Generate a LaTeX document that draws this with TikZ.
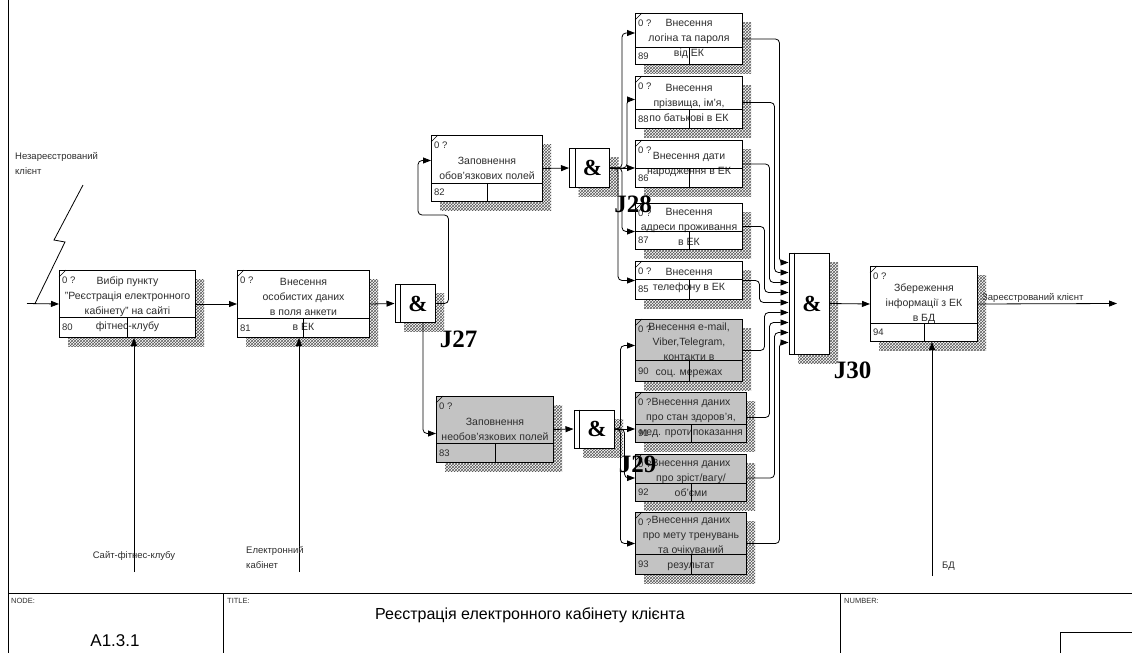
\documentclass[tikz,border=0pt]{standalone}
\usepackage{fontspec}
\setmainfont{Liberation Sans}
\newfontfamily\jfont{Liberation Serif}
\usetikzlibrary{arrows.meta, patterns, positioning, calc}
\definecolor{uobgray}{RGB}{195,195,195}
\definecolor{inkgray}{RGB}{45,45,45}

\tikzset{
    uob/.style={draw, line width=1pt, inner sep=0pt, align=center, text=inkgray,
        font=\fontsize{10.5}{15}\selectfont},
    hatch/.style={pattern=crosshatch, pattern color=black!65},
    junc/.style={draw, line width=1pt, fill=white, minimum width=40pt},
    amp/.style={font=\jfont\bfseries\fontsize{23}{23}\selectfont},
    jname/.style={font=\jfont\bfseries\fontsize{25}{25}\selectfont},
    arr/.style={-{Triangle[length=8pt,width=6pt]}, line width=0.8pt},
    link/.style={arr, rounded corners=4pt},
    note/.style={align=left, inner sep=0pt, text=inkgray, font=\fontsize{9.5}{15}\selectfont},
    small/.style={inner sep=0pt, text=inkgray, font=\fontsize{9.5}{10}\selectfont},
}

% box: [fill] name, x, y, width, height, bottom row, number, text
\newcommand{\uob}[9][white]{%
    \fill[hatch] (#3+9,#4+9) rectangle (#3+#5+9,#4+#6+9);
    \node[uob, fill=#1, anchor=north west, minimum width=#5pt, minimum height=#6pt] (#2) at (#3,#4) {#9};
    \draw[line width=1pt] ([yshift=#7pt]#2.south west) -- ([yshift=#7pt]#2.south east);
    \draw[line width=1pt] (#2.south) -- ([yshift=#7pt]#2.south);
    \draw ([yshift=-7pt]#2.north west) -- ([xshift=7pt]#2.north west);
    \node[small, anchor=north west] at ([xshift=3pt,yshift=-7pt]#2.north west) {0 ?};
    \node[small, anchor=west] at ([xshift=3pt,yshift=0.5*#7pt]#2.south west) {#8};
}

% junction: name, x, y, height, label
\newcommand{\junc}[5]{%
    \fill[hatch] (#2-20+9,#3-#4/2+9) rectangle (#2+20+9,#3+#4/2+9);
    \node[junc, minimum height=#4pt] (#1) at (#2,#3) {};
    \draw ([xshift=6pt]#1.north west) -- ([xshift=6pt]#1.south west);
    \node[amp] at ([xshift=3pt]#1.center) {\&};
    \node[jname] at ($(#1.south east)+(23,16)$) {#5};
}

\begin{document}
\begin{tikzpicture}[x=1pt, y=-1pt]
    \useasboundingbox (0,0) rectangle (1132,653);

    \uob{b80}{59}{270}{136}{67}{21}{80}{Вибір пункту\\"Реєстрація електронного\\кабінету" на сайті\\фітнес-клубу}
    \uob{b81}{237}{270}{132}{67}{20}{81}{Внесення\\особистих даних\\в поля анкети\\в ЕК}
    \uob{b82}{431}{135}{111}{66}{19}{82}{Заповнення\\обов'язкових полей}
    \uob[uobgray]{b83}{436}{396}{117}{66}{20}{83}{Заповнення\\необов'язкових полей}

    \uob{b89}{635}{13}{107}{51}{18}{89}{Внесення\\логіна та пароля\\від ЕК}
    \uob{b88}{635}{76}{107}{52}{20}{88}{Внесення\\прізвища, ім'я,\\по батькові в ЕК}
    \uob{b86}{635}{140}{107}{47}{20}{86}{Внесення дати\\народження в ЕК}
    \uob{b87}{635}{203}{107}{46}{19}{87}{Внесення\\адреси проживання\\в ЕК}
    \uob{b85}{635}{261}{107}{38}{21}{85}{Внесення\\телефону в ЕК}
    \uob[uobgray]{b90}{635}{319}{107}{62}{22}{90}{Внесення e-mail,\\Viber,Telegram,\\контакти в\\соц. мережах}
    \uob[uobgray]{b91}{635}{392}{111}{50}{19}{91}{Внесення даних\\про стан здоров'я,\\мед. протипоказання}
    \uob[uobgray]{b92}{635}{454}{111}{47}{19}{92}{Внесення даних\\про зріст/вагу/\\об'єми}
    \uob[uobgray]{b93}{635}{512}{111}{62}{21}{93}{Внесення даних\\про мету тренувань\\та очікуваний\\результат}
    \uob{b94}{870}{266}{107}{75}{19}{94}{Збереження\\інформації з ЕК\\в БД}

    \junc{j27}{415}{303.5}{38}{J27}
    \junc{j28}{589.5}{168}{39}{J28}
    \junc{j29}{594}{429}{38}{J29}
    \junc{j30}{809}{303.5}{101}{J30}

    % input and output
    \node[note, anchor=north west] (client) at (15,152) {Незареєстрований\\клієнт};
    \coordinate (inp) at (27,303.5);
    \draw[line width=0.8pt] (83,185) -- (54,240) -- (65,242) -- (35,303.5);
    \draw[arr] (inp) -- (b80.west);
    \coordinate (out) at (1117,303.5);
    \draw[arr] (b94.east) -- (out);
    \node[note, anchor=south west] at ([xshift=4pt,yshift=1pt]b94.east) {Зареєстрований клієнт};

    % flow
    \draw[arr] (b80.east) -- (b81.west);
    \draw[arr] (b81.east) -- (j27.west);
    \draw[link] (j27.east) -- ++(13,0) |- (418,215) |- ([yshift=8pt]b82.west);
    \draw[link] ([xshift=8pt]j27.south) |- ([yshift=-4pt]b83.west);
    \draw[arr] (b82.east) -- (j28.west);
    \draw[arr] (b83.east) -- (j29.west);

    \draw[link] (j28.east) -- ++(12,0) |- ([yshift=6pt]b89.west);
    \draw[link] (j28.east) -- ++(17,0) |- ([yshift=3pt]b88.west);
    \draw[arr] (j28.east) -- (b86.west |- j28.east);
    \draw[link] (j28.east) -- ++(12,0) |- ([yshift=-5pt]b87.west);
    \draw[link] (j28.east) -- ++(8,0) |- (b85.west);

    \draw[link] (j29.east) -- ++(6,0) |- ([yshift=5pt]b90.west);
    \draw[arr] (j29.east) -- (b91.west |- j29.east);
    \draw[link] (j29.east) -- ++(10,0) |- (b92.west);
    \draw[link] (j29.east) -- ++(6,0) |- (b93.west);

    \draw[link] (b89.east) -| ([xshift=-9pt,yshift=-10pt]j30.north west) -- ([yshift=-10pt]j30.north west);
    \draw[link] (b88.east) -| ([xshift=-14pt,yshift=-20pt]j30.north west) -- ([yshift=-20pt]j30.north west);
    \draw[link] (b86.east) -| ([xshift=-19pt,yshift=-30pt]j30.north west) -- ([yshift=-30pt]j30.north west);
    \draw[link] (b87.east) -| ([xshift=-24pt,yshift=-40pt]j30.north west) -- ([yshift=-40pt]j30.north west);
    \draw[link] (b85.east) -| ([xshift=-29pt,yshift=-50pt]j30.north west) -- ([yshift=-50pt]j30.north west);
    \draw[link] (b90.east) -| ([xshift=-24pt,yshift=-60pt]j30.north west) -- ([yshift=-60pt]j30.north west);
    \draw[link] (b91.east) -| ([xshift=-19pt,yshift=-70pt]j30.north west) -- ([yshift=-70pt]j30.north west);
    \draw[link] (b92.east) -| ([xshift=-14pt,yshift=-80pt]j30.north west) -- ([yshift=-80pt]j30.north west);
    \draw[link] (b93.east) -| ([xshift=-9pt,yshift=-90pt]j30.north west) -- ([yshift=-90pt]j30.north west);

    \draw[arr] (j30.east) -- (b94.west);

    % mechanisms
    \coordinate (site) at (134,572);
    \draw[arr] (site) -- (site |- b80.south);
    \node[note] at (134,556) {Сайт-фітнес-клубу};
    \coordinate (cab) at (299,572);
    \draw[arr] (cab) -- (cab |- b81.south);
    \node[note, anchor=north west] at (246,546) {Електронний\\кабінет};
    \coordinate (db) at (932,576);
    \draw[arr] (db) -- (db |- b94.south);
    \node[note, anchor=west] at (942,566) {БД};

    % frame
    \draw[line width=1pt] (8,0) -- (8,653);
    \draw[line width=1pt] (8,593) -- (1132,593);
    \draw[line width=1pt] (223,593) -- (223,653);
    \draw[line width=1pt] (840,593) -- (840,653);
    \draw[line width=1pt] (1060,653) -- (1060,632) -- (1132,632);
    \node[small, anchor=north west, font=\fontsize{7.5}{8}\selectfont] at (11,598) {NODE:};
    \node[small, anchor=north west, font=\fontsize{7.5}{8}\selectfont] at (227,598) {TITLE:};
    \node[small, anchor=north west, font=\fontsize{7.5}{8}\selectfont] at (844,598) {NUMBER:};
    \node[font=\fontsize{17}{17}\selectfont] at (115,641) {A1.3.1};
    \node[font=\fontsize{16}{16}\selectfont] at (530,615) {Реєстрація електронного кабінету клієнта};
\end{tikzpicture}
\end{document}
